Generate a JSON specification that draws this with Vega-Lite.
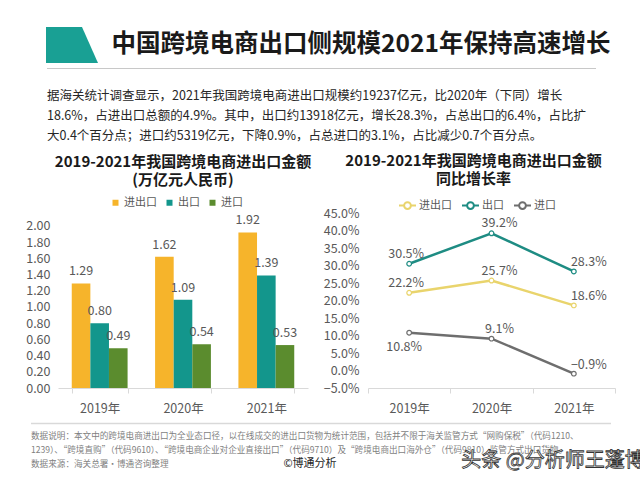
{
  "$schema": "https://vega.github.io/schema/vega-lite/v6.json",
  "padding": {"left": 24, "top": 27, "right": 5, "bottom": 5},
  "background": "white",
  "config": {
    "view": {"stroke": null},
    "font": "Noto Sans CJK SC"
  },
  "datasets": {
    "amount": [
      {"year": "2019年", "type": "进出口", "value": 1.29},
      {"year": "2019年", "type": "出口", "value": 0.80},
      {"year": "2019年", "type": "进口", "value": 0.49},
      {"year": "2020年", "type": "进出口", "value": 1.62},
      {"year": "2020年", "type": "出口", "value": 1.09},
      {"year": "2020年", "type": "进口", "value": 0.54},
      {"year": "2021年", "type": "进出口", "value": 1.92},
      {"year": "2021年", "type": "出口", "value": 1.39},
      {"year": "2021年", "type": "进口", "value": 0.53}
    ],
    "growth": [
      {"year": "2019年", "series": "进出口", "rate": 0.222},
      {"year": "2020年", "series": "进出口", "rate": 0.257},
      {"year": "2021年", "series": "进出口", "rate": 0.186},
      {"year": "2019年", "series": "出口", "rate": 0.305},
      {"year": "2020年", "series": "出口", "rate": 0.392},
      {"year": "2021年", "series": "出口", "rate": 0.283},
      {"year": "2019年", "series": "进口", "rate": 0.108},
      {"year": "2020年", "series": "进口", "rate": 0.091},
      {"year": "2021年", "series": "进口", "rate": -0.009}
    ],
    "empty": [],
    "one": [{"k": 1}]
  },
  "vconcat": [
    {
      "vconcat": [
        {
          "vconcat": [
            {
              "hconcat": [
                {
                  "width": 86, "height": 36,
                  "data": {"values": [{"k": "shape"}]},
                  "mark": {"type": "point", "shape": "M-0.808,-0.692L0.577,-0.692L1.192,0.692L-0.808,0.692Z", "size": 2704, "filled": true, "fill": "#19A094", "opacity": 1, "strokeWidth": 0},
                  "encoding": {}
                },
                {
                  "width": 502, "height": 36,
                  "data": {"values": [{"t": "中国跨境电商出口侧规模2021年保持高速增长"}]},
                  "mark": {"type": "text", "fontSize": 24.5, "fontWeight": "bold", "color": "#1a1a1a", "baseline": "middle", "align": "center"},
                  "encoding": {"text": {"field": "t"}}
                }
              ],
              "spacing": 0
            },
            {
              "hconcat": [
                {
                  "width": 1, "height": 1,
                  "data": {"name": "empty"},
                  "mark": {"type": "text"},
                  "encoding": {"text": {"field": "t"}}
                },
                {
                  "vconcat": [
                    {
                      "width": 549, "height": 1,
                      "data": {"name": "one"},
                      "mark": {"type": "rule", "color": "#c8c8c8", "strokeWidth": 1.2},
                      "encoding": {
                        "x": {"datum": 0, "type": "quantitative", "scale": {"domain": [0, 1]}, "axis": null},
                        "x2": {"datum": 1}
                      }
                    },
                    {
                      "width": 549, "height": 60,
                      "data": {"values": [
                        {"line": 1, "text": "据海关统计调查显示，2021年我国跨境电商进出口规模约19237亿元，比2020年（下同）增长"},
                        {"line": 2, "text": "18.6%，占进出口总额的4.9%。其中，出口约13918亿元，增长28.3%，占总出口的6.4%，占比扩"},
                        {"line": 3, "text": "大0.4个百分点；进口约5319亿元，下降0.9%，占总进口的3.1%，占比减少0.7个百分点。"}
                      ]},
                      "mark": {"type": "text", "align": "left", "baseline": "middle", "fontSize": 12.5, "color": "#262626"},
                      "encoding": {
                        "x": {"datum": 0, "type": "quantitative", "scale": {"domain": [0, 1]}, "axis": null},
                        "y": {"field": "line", "type": "ordinal", "scale": {"type": "point", "padding": 0.5}, "axis": null},
                        "text": {"field": "text"}
                      }
                    }
                  ],
                  "spacing": 16
                }
              ],
              "spacing": 21
            }
          ],
          "spacing": 4
        },
        {
          "hconcat": [
            {
              "width": 1, "height": 1,
              "data": {"name": "empty"},
              "mark": {"type": "text"},
              "encoding": {"text": {"field": "t"}}
            },
            {
              "hconcat": [
                {
                  "width": 250, "height": 175,
                  "title": {"text": ["2019-2021年我国跨境电商进出口金额", "(万亿元人民币)"], "fontSize": 15, "fontWeight": "bold", "color": "#1a1a1a", "lineHeight": 18, "offset": 9},
                  "data": {"name": "amount"},
                  "encoding": {
                    "x": {
                      "field": "year", "type": "nominal", "title": null,
                      "scale": {"paddingInner": 0.33, "paddingOuter": 0.165},
                      "axis": {"labelAngle": 0, "tickBand": "extent", "domainColor": "#d9d9d9", "tickColor": "#d9d9d9", "tickSize": 5, "labelPadding": 9, "labelFontSize": 12.5, "labelColor": "#595959"}
                    },
                    "y": {
                      "field": "value", "type": "quantitative", "title": null,
                      "scale": {"domain": [0, 2.16], "nice": false},
                      "axis": {"values": [0, 0.2, 0.4, 0.6, 0.8, 1.0, 1.2, 1.4, 1.6, 1.8, 2.0], "format": ".2f", "grid": false, "domain": false, "ticks": false, "labelPadding": 8, "labelFontSize": 12.5, "labelColor": "#595959"}
                    },
                    "xOffset": {"field": "type", "sort": ["进出口", "出口", "进口"], "scale": {"paddingInner": 0, "paddingOuter": 0}}
                  },
                  "layer": [
                    {
                      "mark": {"type": "bar"},
                      "encoding": {
                        "color": {
                          "field": "type", "type": "nominal",
                          "scale": {"domain": ["进出口", "出口", "进口"], "range": ["#F6B42B", "#13968C", "#5B8C2E"]},
                          "legend": {"orient": "none", "legendX": 52, "legendY": -16, "direction": "horizontal", "title": null, "symbolType": "square", "symbolSize": 36, "symbolStrokeWidth": 0, "labelOffset": 3, "labelFontSize": 11, "labelColor": "#595959", "columnPadding": 7}
                        }
                      }
                    },
                    {
                      "mark": {"type": "text", "baseline": "bottom", "dy": -5, "fontSize": 12.5, "color": "#595959"},
                      "encoding": {"text": {"field": "value", "type": "quantitative", "format": ".2f"}}
                    }
                  ]
                },
                {
                  "width": 247, "height": 175,
                  "title": {"text": ["2019-2021年我国跨境电商进出口金额", "同比增长率"], "fontSize": 15, "fontWeight": "bold", "color": "#1a1a1a", "lineHeight": 18, "offset": 9, "dx": -18},
                  "data": {"name": "growth"},
                  "encoding": {
                    "x": {
                      "field": "year", "type": "nominal", "title": null,
                      "scale": {"type": "band", "paddingInner": 0, "paddingOuter": 0},
                      "axis": {"labelAngle": 0, "tickBand": "extent", "domainColor": "#d9d9d9", "tickColor": "#d9d9d9", "tickSize": 5, "labelPadding": 9, "labelFontSize": 12.5, "labelColor": "#595959"}
                    },
                    "y": {
                      "field": "rate", "type": "quantitative", "title": null,
                      "scale": {"domain": [-0.05, 0.45], "nice": false},
                      "axis": {"values": [-0.05, 0, 0.05, 0.1, 0.15, 0.2, 0.25, 0.3, 0.35, 0.4, 0.45], "format": ".1%", "grid": false, "domain": false, "ticks": false, "labelPadding": 9, "labelFontSize": 12.5, "labelColor": "#595959"}
                    }
                  },
                  "layer": [
                    {
                      "mark": {"type": "line", "strokeWidth": 2.5, "point": {"filled": false, "fill": "white", "size": 22, "strokeWidth": 1.2}},
                      "encoding": {
                        "color": {
                          "field": "series", "type": "nominal",
                          "scale": {"domain": ["进出口", "出口", "进口"], "range": ["#E9D46C", "#1E8C83", "#6E6E6E"]},
                          "legend": {"orient": "none", "legendX": 30, "legendY": -17, "direction": "horizontal", "title": null, "symbolType": "M-1,0L-0.4,0M0.4,0L1,0M0.4,0A0.4,0.4,0,1,1,-0.4,0A0.4,0.4,0,1,1,0.4,0", "symbolSize": 289, "symbolStrokeWidth": 2, "labelOffset": 2, "labelFontSize": 11, "labelColor": "#595959", "columnPadding": 6}
                        }
                      }
                    },
                    {
                      "transform": [{"filter": "datum.year === '2019年' && datum.series !== '进口'"}],
                      "mark": {"type": "text", "baseline": "bottom", "dx": -3, "dy": -3, "fontSize": 12.5, "color": "#595959"},
                      "encoding": {"text": {"field": "rate", "type": "quantitative", "format": ".1%"}}
                    },
                    {
                      "transform": [{"filter": "datum.year === '2019年' && datum.series === '进口'"}],
                      "mark": {"type": "text", "baseline": "top", "dx": -5, "dy": 8, "fontSize": 12.5, "color": "#595959"},
                      "encoding": {"text": {"field": "rate", "type": "quantitative", "format": ".1%"}}
                    },
                    {
                      "transform": [{"filter": "datum.year === '2020年'"}],
                      "mark": {"type": "text", "baseline": "bottom", "dx": 8, "dy": -3, "fontSize": 12.5, "color": "#595959"},
                      "encoding": {"text": {"field": "rate", "type": "quantitative", "format": ".1%"}}
                    },
                    {
                      "transform": [{"filter": "datum.year === '2021年'"}],
                      "mark": {"type": "text", "baseline": "bottom", "dx": 15, "dy": -2, "fontSize": 12.5, "color": "#595959"},
                      "encoding": {"text": {"field": "rate", "type": "quantitative", "format": ".1%"}}
                    }
                  ]
                }
              ],
              "spacing": 11,
              "resolve": {"scale": {"color": "independent"}, "legend": {"color": "independent"}}
            }
          ],
          "spacing": 0
        }
      ],
      "spacing": 8
    },
    {
      "hconcat": [
        {
          "width": 1, "height": 1,
          "data": {"name": "empty"},
          "mark": {"type": "text"},
          "encoding": {"text": {"field": "t"}}
        },
        {
          "vconcat": [
            {
              "width": 580, "height": 1,
              "data": {"name": "one"},
              "mark": {"type": "rule", "color": "#d9d9d9", "strokeWidth": 1.5},
              "encoding": {
                "x": {"datum": 0, "type": "quantitative", "scale": {"domain": [0, 1]}, "axis": null},
                "x2": {"datum": 1}
              }
            },
            {
              "width": 580, "height": 42,
              "data": {"values": [
                {"line": 1, "kind": "note", "text": "数据说明：本文中的跨境电商进出口为全业态口径，以在线成交的进出口货物为统计范围，包括并不限于海关监管方式“网购保税”（代码1210、"},
                {"line": 2, "kind": "note", "text": "1239）、“跨境直购”（代码9610）、“跨境电商企业对企业直接出口”（代码9710）及“跨境电商出口海外仓”（代码9810）监管方式出口货物。"},
                {"line": 3, "kind": "note", "text": "数据来源：海关总署·博通咨询整理"},
                {"line": 3, "kind": "copy", "text": "©博通分析"},
                {"line": 3, "kind": "mark", "text": "头条 @分析师王蓬博"}
              ]},
              "encoding": {
                "y": {"field": "line", "type": "ordinal", "scale": {"type": "point", "padding": 0.5}, "axis": null},
                "text": {"field": "text"}
              },
              "layer": [
                {
                  "transform": [{"filter": "datum.kind === 'note'"}],
                  "mark": {"type": "text", "align": "left", "baseline": "middle", "fontSize": 8.6, "color": "#7f7f7f"},
                  "encoding": {"x": {"datum": 0, "type": "quantitative", "scale": {"domain": [0, 1]}, "axis": null}}
                },
                {
                  "transform": [{"filter": "datum.kind === 'copy'"}],
                  "mark": {"type": "text", "align": "center", "baseline": "middle", "fontSize": 11, "color": "#262626"},
                  "encoding": {"x": {"datum": 0.481, "type": "quantitative"}}
                },
                {
                  "transform": [{"filter": "datum.kind === 'mark'"}],
                  "mark": {"type": "text", "align": "center", "baseline": "middle", "dy": -3, "fontSize": 20, "fill": "white", "stroke": "#333333", "strokeWidth": 0.8},
                  "encoding": {"x": {"datum": 0.9, "type": "quantitative"}}
                }
              ]
            }
          ],
          "spacing": 4
        }
      ],
      "spacing": 5
    }
  ],
  "spacing": 7
}
